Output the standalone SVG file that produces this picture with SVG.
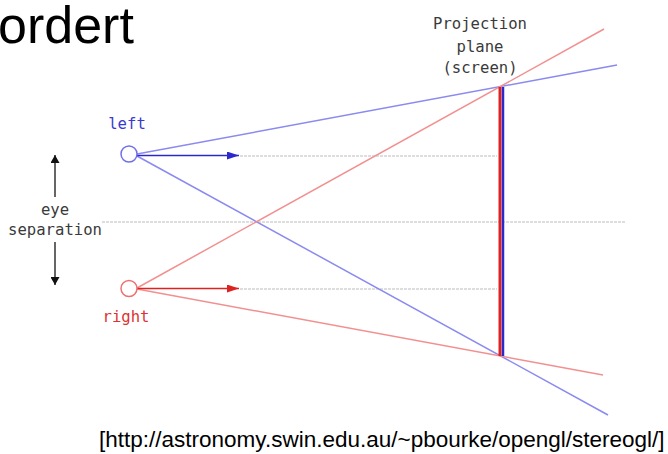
<svg xmlns="http://www.w3.org/2000/svg" width="668" height="454" viewBox="0 0 668 454">
<style>
.mono{font-family:"DejaVu Sans Mono","Liberation Mono",monospace;font-size:15.6px;text-anchor:middle}
.ray-b{stroke:#8a8af0;stroke-width:1.5;fill:none}
.ray-r{stroke:#f29090;stroke-width:1.5;fill:none}
.dot{stroke:#d4d4d4;stroke-width:1.5;stroke-dasharray:3 1;fill:none}
</style>
<defs>
<marker id="ab" viewBox="0 0 12 8" refX="12" refY="4" markerWidth="12" markerHeight="8" markerUnits="userSpaceOnUse" orient="auto"><path d="M0,0L12,4L0,8z" fill="#2a2acc"/></marker>
<marker id="ar" viewBox="0 0 12 8" refX="12" refY="4" markerWidth="12" markerHeight="8" markerUnits="userSpaceOnUse" orient="auto"><path d="M0,0L12,4L0,8z" fill="#dd2222"/></marker>
<marker id="ak" viewBox="0 0 8 9" refX="8" refY="4.5" markerWidth="8" markerHeight="9" markerUnits="userSpaceOnUse" orient="auto"><path d="M0,0L8,4.5L0,9z" fill="#111"/></marker>
</defs>
<rect width="668" height="454" fill="#fff"/>
<text x="-2" y="43" font-family="Liberation Sans,Arial,sans-serif" font-size="52" fill="#000">ordert</text>
<g id="connectors">
<line class="dot" x1="102" y1="222" x2="625" y2="222"/>
<line class="dot" x1="240" y1="156" x2="497" y2="156"/>
<line class="dot" x1="240" y1="289" x2="497" y2="289"/>
<line class="ray-b" x1="137" y1="154" x2="617" y2="65"/>
<line class="ray-b" x1="137" y1="156" x2="608" y2="415"/>
<line class="ray-r" x1="137" y1="288" x2="604" y2="29"/>
<line class="ray-r" x1="137" y1="289" x2="603" y2="375"/>
<line x1="137" y1="155.5" x2="239" y2="155.5" stroke="#2a2acc" stroke-width="1.5" marker-end="url(#ab)"/>
<line x1="137" y1="288.5" x2="239" y2="288.5" stroke="#dd2222" stroke-width="1.5" marker-end="url(#ar)"/>
<line x1="55" y1="197" x2="55" y2="155" stroke="#333" stroke-width="1.5" marker-end="url(#ak)"/>
<line x1="55" y1="242" x2="55" y2="285" stroke="#333" stroke-width="1.5" marker-end="url(#ak)"/>
</g>
<g id="screen">
<line x1="500" y1="87" x2="500" y2="356" stroke="#dd2222" stroke-width="3"/>
<line x1="503" y1="87" x2="503" y2="356" stroke="#2a2acc" stroke-width="2.5"/>
<text class="mono" x="480" y="29" fill="#3a3a3a">Projection</text>
<text class="mono" x="480" y="52" fill="#3a3a3a">plane</text>
<text class="mono" x="480" y="73" fill="#3a3a3a">(screen)</text>
</g>
<g id="left-eye">
<circle cx="129" cy="154" r="8" fill="#fff" stroke="#7070e8" stroke-width="1.5"/>
<text class="mono" x="127" y="129" fill="#3a3ad0">left</text>
</g>
<g id="right-eye">
<circle cx="129" cy="288.5" r="8" fill="#fff" stroke="#ee7070" stroke-width="1.5"/>
<text class="mono" x="126" y="322" fill="#dd3333">right</text>
</g>
<g id="eye-separation">
<text class="mono" x="55" y="215" fill="#3a3a3a">eye</text>
<text class="mono" x="55" y="235" fill="#3a3a3a">separation</text>
</g>
<text x="99" y="447" font-family="Liberation Sans,Arial,sans-serif" font-size="22.5" fill="#000">[http://astronomy.swin.edu.au/~pbourke/opengl/stereogl/]</text>
</svg>
